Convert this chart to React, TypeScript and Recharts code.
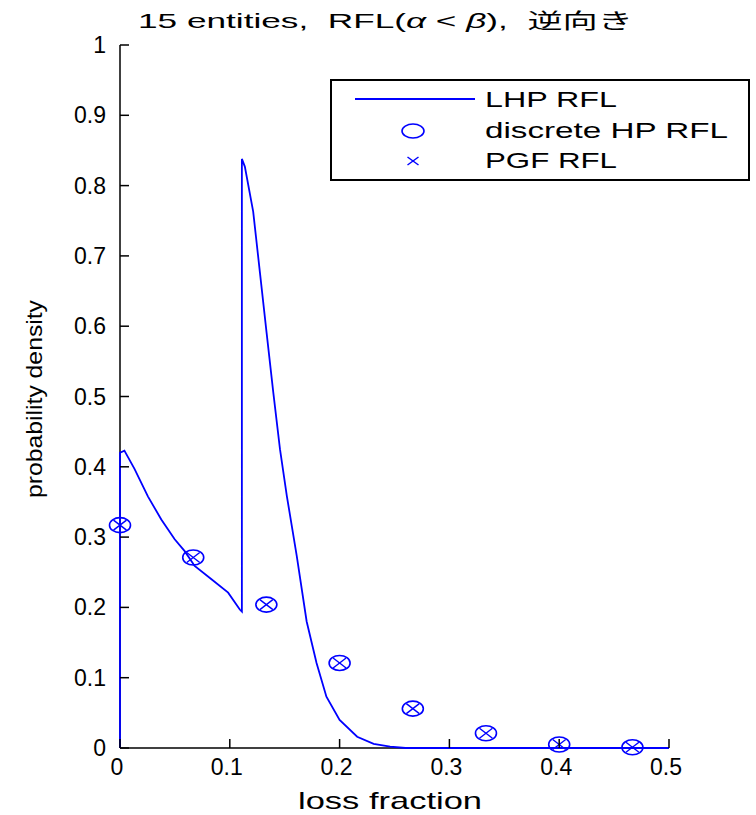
import React from 'react';
import { ComposedChart, Line, Scatter, XAxis, YAxis } from 'recharts';

// LHP RFL curve
const lhpX = [0, 0, 0.004, 0.0132, 0.0254, 0.0376, 0.0498, 0.0589, 0.068, 0.0833, 0.0985, 0.1091, 0.111, 0.111, 0.1137, 0.1213, 0.1274, 0.1335, 0.1396, 0.1457, 0.152, 0.161, 0.17, 0.179, 0.188, 0.2, 0.216, 0.231, 0.246, 0.26, 0.5];
const lhpY = [0, 0.42, 0.423, 0.397, 0.358, 0.325, 0.297, 0.28, 0.259, 0.24, 0.221, 0.197, 0.194, 0.838, 0.827, 0.763, 0.677, 0.591, 0.506, 0.425, 0.358, 0.273, 0.18, 0.121, 0.073, 0.04, 0.016, 0.006, 0.002, 0, 0];

// discrete HP RFL
const hpX = [0, 0.0667, 0.1333, 0.2, 0.2667, 0.3333, 0.4, 0.4667];
const hpY = [0.317, 0.271, 0.204, 0.121, 0.056, 0.021, 0.005, 0.001];

// PGF RFL
const pgfX = [0, 0.0667, 0.1333, 0.2, 0.2667, 0.3333, 0.4, 0.4667];
const pgfY = [0.317, 0.271, 0.204, 0.121, 0.056, 0.021, 0.005, 0.001];

const xTicks = [0, 0.1, 0.2, 0.3, 0.4, 0.5];
const yTicks = [0, 0.1, 0.2, 0.3, 0.4, 0.5, 0.6, 0.7, 0.8, 0.9, 1];

const titleText = '15 entities,  RFL(';
const xLabel = 'loss fraction';
const yLabel = 'probability density';
const legendNames = ['LHP RFL', 'discrete HP RFL', 'PGF RFL'];

const BLUE = '#0000ff';
const FONT = '"Liberation Sans", Arial, "Noto Sans CJK JP", sans-serif';
const TICK_LEN = 9;

const lhpData = lhpX.map((x, i) => ({ x, y: lhpY[i] }));
const hpData = hpX.map((x, i) => ({ x, y: hpY[i] }));
const pgfData = pgfX.map((x, i) => ({ x, y: pgfY[i] }));

const CircleMark = (p: any) => (
  <ellipse cx={p.cx} cy={p.cy} rx={10.5} ry={7.5} fill="none" stroke={BLUE} strokeWidth={1.6} />
);
const CrossMark = (p: any) => (
  <g stroke={BLUE} strokeWidth={1.4}>
    <line x1={p.cx - 6.5} y1={p.cy - 5} x2={p.cx + 6.5} y2={p.cy + 5} />
    <line x1={p.cx - 6.5} y1={p.cy + 5} x2={p.cx + 6.5} y2={p.cy - 5} />
  </g>
);

// bottom axis: x,y = tick coordinate on the axis line
const XTick = (p: any) => (
  <g>
    <line x1={p.x} y1={p.y} x2={p.x} y2={p.y - TICK_LEN} stroke="#000" strokeWidth={1.5} />
    <text x={p.x - 3} y={p.y + 27} textAnchor="middle" fontSize={23} fontFamily={FONT} fill="#000">
      {String(p.payload.value)}
    </text>
  </g>
);
const YTick = (p: any) => (
  <g>
    <line x1={p.x} y1={p.y} x2={p.x + TICK_LEN} y2={p.y} stroke="#000" strokeWidth={1.5} />
    <text x={p.x - 14} y={p.y + 8} textAnchor="end" fontSize={23} fontFamily={FONT} fill="#000">
      {String(p.payload.value)}
    </text>
  </g>
);
const TopTick = (p: any) => (
  <line x1={p.x} y1={p.y} x2={p.x} y2={p.y + TICK_LEN} stroke="#000" strokeWidth={1.5} />
);
const RightTick = (p: any) => (
  <line x1={p.x} y1={p.y} x2={p.x - TICK_LEN} y2={p.y} stroke="#000" strokeWidth={1.5} />
);

const axisLine = { stroke: '#000', strokeWidth: 1.5 };

export default function App() {
  return (
    <div style={{ position: 'absolute', left: 0, top: 0, width: 756, height: 815, background: '#fff' }}>
      <ComposedChart width={756} height={815} margin={{ top: 45, right: 87, bottom: 0, left: 0 }}>
        <XAxis
          dataKey="x"
          type="number"
          domain={[0, 0.5]}
          ticks={xTicks}
          height={67}
          tickSize={0}
          tickMargin={0}
          tickLine={false}
          tick={<XTick />}
          axisLine={axisLine}
        />
        <XAxis
          xAxisId="top"
          orientation="top"
          dataKey="x"
          type="number"
          domain={[0, 0.5]}
          allowDataOverflow
          ticks={xTicks}
          height={0}
          tickSize={0}
          tickMargin={0}
          tickLine={false}
          tick={<TopTick />}
          axisLine={axisLine}
        />
        <YAxis
          dataKey="y"
          type="number"
          domain={[0, 1]}
          ticks={yTicks}
          width={120}
          tickSize={0}
          tickMargin={0}
          tickLine={false}
          tick={<YTick />}
          axisLine={axisLine}
        />
        <YAxis
          yAxisId="right"
          orientation="right"
          dataKey="y"
          type="number"
          domain={[0, 1]}
          allowDataOverflow
          ticks={yTicks}
          width={0}
          tickSize={0}
          tickMargin={0}
          tickLine={false}
          tick={<RightTick />}
          axisLine={axisLine}
        />
        <Line
          data={lhpData}
          dataKey="y"
          type="linear"
          stroke={BLUE}
          strokeWidth={1.8}
          dot={false}
          activeDot={false}
          isAnimationActive={false}
          zIndex={700}
        />
        <Scatter data={hpData} dataKey="y" shape={CircleMark} isAnimationActive={false} />
        <Scatter data={pgfData} dataKey="y" shape={CrossMark} isAnimationActive={false} />
      </ComposedChart>
      <svg
        width={756}
        height={815}
        style={{ position: 'absolute', left: 0, top: 0, pointerEvents: 'none' }}
      >
        <text
          x={385.5}
          y={28}
          textAnchor="middle"
          fontSize={21}
          fontFamily={FONT}
          textLength={495}
          lengthAdjust="spacingAndGlyphs"
          style={{ whiteSpace: 'pre' }}
        >
          {titleText}
          <tspan fontStyle="italic">α</tspan>
          {' < '}
          <tspan fontStyle="italic">β</tspan>
          {'),  逆向き'}
        </text>
        <text
          x={390}
          y={809}
          textAnchor="middle"
          fontSize={24}
          fontFamily={FONT}
          textLength={184}
          lengthAdjust="spacingAndGlyphs"
        >
          {xLabel}
        </text>
        <text
          x={42}
          y={399}
          transform="rotate(-90 42 399)"
          textAnchor="middle"
          fontSize={22}
          fontFamily={FONT}
          textLength={198}
          lengthAdjust="spacingAndGlyphs"
        >
          {yLabel}
        </text>
        <rect x={331} y={80} width={418} height={100} fill="#fff" stroke="#000" strokeWidth={2} />
        <line x1={355} y1={99} x2={475} y2={99} stroke={BLUE} strokeWidth={2} />
        <ellipse cx={413} cy={131} rx={11} ry={7} fill="none" stroke={BLUE} strokeWidth={1.6} />
        <g stroke={BLUE} strokeWidth={1.4}>
          <line x1={407.5} y1={157} x2={418.5} y2={165} />
          <line x1={407.5} y1={165} x2={418.5} y2={157} />
        </g>
        <text x={485} y={107} fontSize={22} fontFamily={FONT} textLength={132} lengthAdjust="spacingAndGlyphs">
          {legendNames[0]}
        </text>
        <text x={485} y={138} fontSize={22} fontFamily={FONT} textLength={243} lengthAdjust="spacingAndGlyphs">
          {legendNames[1]}
        </text>
        <text x={485} y={168} fontSize={22} fontFamily={FONT} textLength={132} lengthAdjust="spacingAndGlyphs">
          {legendNames[2]}
        </text>
      </svg>
    </div>
  );
}
